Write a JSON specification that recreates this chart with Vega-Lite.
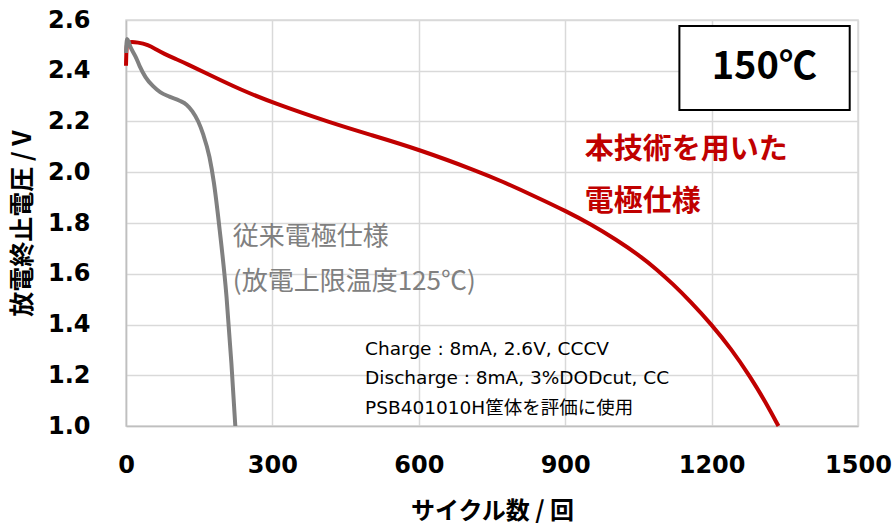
{
  "$schema": "https://vega.github.io/schema/vega-lite/v6.json",
  "width": 732,
  "height": 406,
  "autosize": {"type": "none"},
  "padding": {"left": 126, "top": 20, "right": 36, "bottom": 101},
  "background": "white",
  "config": {
    "view": {"stroke": "#d9d9d9", "strokeWidth": 1.5},
    "axis": {
      "grid": true,
      "gridColor": "#d9d9d9",
      "gridWidth": 1.5,
      "domainColor": "#bfbfbf",
      "domainWidth": 1.5,
      "ticks": false,
      "labelFlush": false,
      "labelFont": "DejaVu Sans",
      "labelFontWeight": "bold",
      "labelFontSize": 24,
      "labelColor": "#000000",
      "titleFont": "Noto Sans CJK JP",
      "titleFontWeight": "bold",
      "titleFontSize": 24,
      "titleColor": "#000000"
    }
  },
  "datasets": {
    "curves": [
      {"series": "本技術", "cycle": 0, "voltage": 2.42},
      {"series": "本技術", "cycle": 1, "voltage": 2.5},
      {"series": "本技術", "cycle": 3, "voltage": 2.515},
      {"series": "本技術", "cycle": 25, "voltage": 2.512},
      {"series": "本技術", "cycle": 45, "voltage": 2.502},
      {"series": "本技術", "cycle": 62, "voltage": 2.484},
      {"series": "本技術", "cycle": 78, "voltage": 2.467},
      {"series": "本技術", "cycle": 100, "voltage": 2.448},
      {"series": "本技術", "cycle": 124, "voltage": 2.428},
      {"series": "本技術", "cycle": 175, "voltage": 2.38},
      {"series": "本技術", "cycle": 233, "voltage": 2.327},
      {"series": "本技術", "cycle": 300, "voltage": 2.274},
      {"series": "本技術", "cycle": 424, "voltage": 2.192},
      {"series": "本技術", "cycle": 500, "voltage": 2.148},
      {"series": "本技術", "cycle": 600, "voltage": 2.09},
      {"series": "本技術", "cycle": 726, "voltage": 2.0},
      {"series": "本技術", "cycle": 766, "voltage": 1.968},
      {"series": "本技術", "cycle": 847, "voltage": 1.897},
      {"series": "本技術", "cycle": 900, "voltage": 1.848},
      {"series": "本技術", "cycle": 951, "voltage": 1.797},
      {"series": "本技術", "cycle": 1005, "voltage": 1.734},
      {"series": "本技術", "cycle": 1053, "voltage": 1.671},
      {"series": "本技術", "cycle": 1087, "voltage": 1.618},
      {"series": "本技術", "cycle": 1121, "voltage": 1.559},
      {"series": "本技術", "cycle": 1155, "voltage": 1.494},
      {"series": "本技術", "cycle": 1200, "voltage": 1.4},
      {"series": "本技術", "cycle": 1240, "voltage": 1.304},
      {"series": "本技術", "cycle": 1279, "voltage": 1.195},
      {"series": "本技術", "cycle": 1310, "voltage": 1.096},
      {"series": "本技術", "cycle": 1337, "voltage": 1.0},
      {"series": "従来", "cycle": 0, "voltage": 2.47},
      {"series": "従来", "cycle": 2, "voltage": 2.525},
      {"series": "従来", "cycle": 10, "voltage": 2.49},
      {"series": "従来", "cycle": 21, "voltage": 2.45},
      {"series": "従来", "cycle": 28, "voltage": 2.418},
      {"series": "従来", "cycle": 40, "voltage": 2.375},
      {"series": "従来", "cycle": 55, "voltage": 2.34},
      {"series": "従来", "cycle": 70, "voltage": 2.316},
      {"series": "従来", "cycle": 89, "voltage": 2.298},
      {"series": "従来", "cycle": 110, "voltage": 2.282},
      {"series": "従来", "cycle": 124, "voltage": 2.266},
      {"series": "従来", "cycle": 136, "voltage": 2.24},
      {"series": "従来", "cycle": 148, "voltage": 2.2},
      {"series": "従来", "cycle": 158, "voltage": 2.15},
      {"series": "従来", "cycle": 171, "voltage": 2.06},
      {"series": "従来", "cycle": 180, "voltage": 1.96},
      {"series": "従来", "cycle": 192, "voltage": 1.772},
      {"series": "従来", "cycle": 206, "voltage": 1.509},
      {"series": "従来", "cycle": 216, "voltage": 1.247},
      {"series": "従来", "cycle": 224, "voltage": 1.0}
    ],
    "box": [
      {"x1": 1134, "x2": 1483, "y1": 2.576, "y2": 2.245, "label": "150℃", "cx": 1308, "cy": 2.41}
    ],
    "redText": [
      {"cycle": 940, "voltage": 2.087, "label": "本技術を用いた"},
      {"cycle": 940, "voltage": 1.882, "label": "電極仕様"}
    ],
    "grayText": [
      {"cycle": 219, "voltage": 1.746, "label": "従来電極仕様"},
      {"cycle": 219, "voltage": 1.568, "label": "(放電上限温度125℃)"}
    ],
    "notes": [
      {"cycle": 490, "voltage": 1.303, "label": "Charge : 8mA, 2.6V, CCCV"},
      {"cycle": 490, "voltage": 1.189, "label": "Discharge : 8mA, 3%DODcut, CC"},
      {"cycle": 490, "voltage": 1.071, "label": "PSB401010H筐体を評価に使用"}
    ]
  },
  "layer": [
    {
      "data": {"name": "curves"},
      "transform": [{"filter": "datum.series === '本技術'"}],
      "mark": {"type": "line", "color": "#c00000", "strokeWidth": 4, "interpolate": "basis"},
      "encoding": {
        "x": {
          "field": "cycle", "type": "quantitative",
          "scale": {"domain": [0, 1500], "nice": false},
          "axis": {"values": [0, 300, 600, 900, 1200, 1500], "format": "d", "title": "サイクル数 / 回", "labelPadding": 27, "titlePadding": 22}
        },
        "y": {
          "field": "voltage", "type": "quantitative",
          "scale": {"domain": [1.0, 2.6], "nice": false, "zero": false},
          "axis": {"values": [1.0, 1.2, 1.4, 1.6, 1.8, 2.0, 2.2, 2.4, 2.6], "format": ".1f", "title": "放電終止電圧 / V", "titleFontSize": 25, "labelPadding": 36, "titlePadding": 12}
        }
      }
    },
    {
      "data": {"name": "curves"},
      "transform": [{"filter": "datum.series === '従来'"}],
      "mark": {"type": "line", "color": "#808080", "strokeWidth": 4, "interpolate": "monotone"},
      "encoding": {
        "x": {"field": "cycle", "type": "quantitative"},
        "y": {"field": "voltage", "type": "quantitative"}
      }
    },
    {
      "data": {"name": "box"},
      "mark": {"type": "rect", "fill": "white", "stroke": "#000000", "strokeWidth": 2},
      "encoding": {
        "x": {"field": "x1", "type": "quantitative"},
        "x2": {"field": "x2"},
        "y": {"field": "y1", "type": "quantitative"},
        "y2": {"field": "y2"}
      }
    },
    {
      "data": {"name": "box"},
      "mark": {"type": "text", "font": "Noto Sans CJK JP", "fontWeight": "bold", "fontSize": 38, "color": "#000000", "align": "center", "baseline": "middle"},
      "encoding": {
        "x": {"field": "cx", "type": "quantitative"},
        "y": {"field": "cy", "type": "quantitative"},
        "text": {"field": "label"}
      }
    },
    {
      "data": {"name": "redText"},
      "mark": {"type": "text", "font": "Noto Sans CJK JP", "fontWeight": "bold", "fontSize": 29, "color": "#c00000", "align": "left", "baseline": "middle"},
      "encoding": {
        "x": {"field": "cycle", "type": "quantitative"},
        "y": {"field": "voltage", "type": "quantitative"},
        "text": {"field": "label"}
      }
    },
    {
      "data": {"name": "grayText"},
      "mark": {"type": "text", "font": "Noto Sans CJK JP", "fontSize": 26, "color": "#808080", "align": "left", "baseline": "middle"},
      "encoding": {
        "x": {"field": "cycle", "type": "quantitative"},
        "y": {"field": "voltage", "type": "quantitative"},
        "text": {"field": "label"}
      }
    },
    {
      "data": {"name": "notes"},
      "mark": {"type": "text", "font": "DejaVu Sans, Noto Sans CJK JP", "fontSize": 18.5, "color": "#000000", "align": "left", "baseline": "middle"},
      "encoding": {
        "x": {"field": "cycle", "type": "quantitative"},
        "y": {"field": "voltage", "type": "quantitative"},
        "text": {"field": "label"}
      }
    }
  ]
}
